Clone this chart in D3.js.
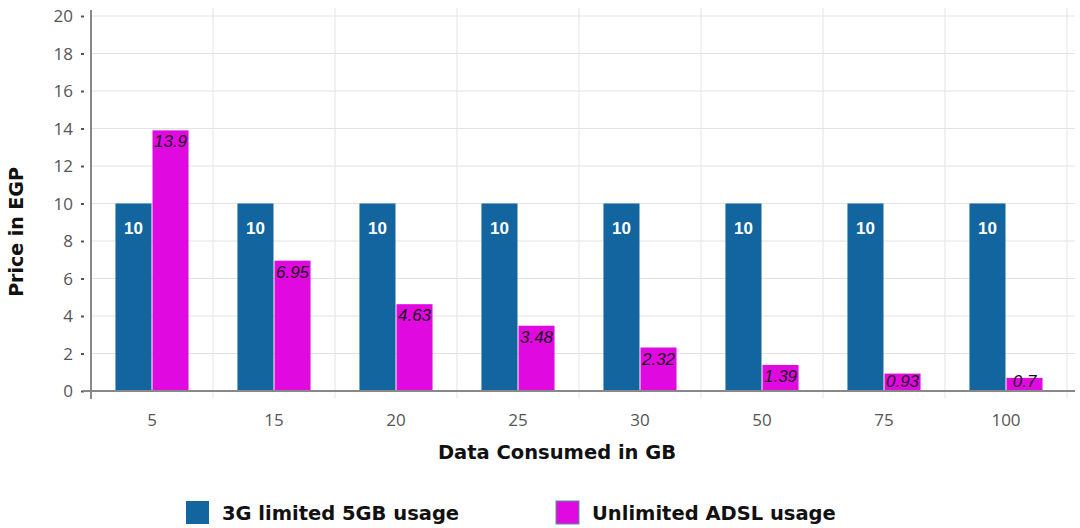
<!DOCTYPE html>
<html>
<head>
<meta charset="utf-8">
<script src="https://cdn.jsdelivr.net/npm/d3@7"></script>
<style>
  html, body { margin: 0; padding: 0; background: #fff; }
  svg { display: block; }
</style>
</head>
<body>
<svg id="chart" width="1080" height="528"></svg>
<script>
// Data consumed (GB) and monthly price (EGP) for each plan
const categories = ["5", "15", "20", "25", "30", "50", "75", "100"];
const series = ["3G limited 5GB usage", "Unlimited ADSL usage"];
const price3G = [10, 10, 10, 10, 10, 10, 10, 10];
const priceADSL = [13.9, 6.95, 4.63, 3.48, 2.32, 1.39, 0.93, 0.7];
const yTicks = [0, 2, 4, 6, 8, 10, 12, 14, 16, 18, 20];

const colors = ["#12659f", "#e00ae0"];

const svg = d3.select("#chart");
const W = 1080;
const plotLeft = 91, plotRight = 1067, plotTop = 16, plotBottom = 391;

const x = d3.scaleBand().domain(categories).range([plotLeft, plotRight]);
const x1 = d3.scaleBand().domain([0, 1]).range([0, x.bandwidth()])
  .paddingInner(0.027).paddingOuter(0.66);
const y = d3.scaleLinear().domain([0, 20]).range([plotBottom, plotTop]);

const titleFont = "DejaVu Sans, Verdana, sans-serif";
const tickFont = "Open Sans, sans-serif";

// horizontal grid
svg.append("g")
  .selectAll("line")
  .data(yTicks.filter(d => d > 0))
  .join("line")
  .attr("x1", plotLeft).attr("x2", W - 5)
  .attr("y1", d => y(d)).attr("y2", d => y(d))
  .attr("stroke", "#e3e3e3").attr("stroke-width", 1);

// vertical grid at category boundaries
svg.append("g")
  .selectAll("line")
  .data(categories)
  .join("line")
  .attr("x1", d => x(d) + x.step())
  .attr("x2", d => x(d) + x.step())
  .attr("y1", plotTop - 8).attr("y2", y(0) + 7)
  .attr("stroke", "#e3e3e3").attr("stroke-width", 1);

// bars
const groups = svg.append("g")
  .selectAll("g")
  .data(categories)
  .join("g")
  .attr("transform", d => `translate(${x(d)},0)`);

const vals = [price3G, priceADSL];

groups.each(function (c, i) {
  const g = d3.select(this);
  vals.forEach((arr, s) => {
    g.append("rect")
      .attr("x", x1(s))
      .attr("y", y(arr[i]))
      .attr("width", x1.bandwidth())
      .attr("height", y(0) - y(arr[i]))
      .attr("fill", colors[s]);
  });
  // value labels
  g.append("text")
    .attr("x", x1(0) + x1.bandwidth() / 2)
    .attr("y", y(price3G[i]) + 30)
    .attr("text-anchor", "middle")
    .attr("font-family", "Liberation Sans, Arial, sans-serif")
    .attr("font-weight", "bold")
    .attr("font-size", 17)
    .attr("fill", "#ffffff")
    .text(price3G[i]);
  g.append("text")
    .attr("x", x1(1) + x1.bandwidth() / 2)
    .attr("y", Math.min(y(priceADSL[i]) + 17, y(0) - 4))
    .attr("text-anchor", "middle")
    .attr("font-family", "Liberation Sans, Arial, sans-serif")
    .attr("font-style", "italic")
    .attr("font-size", 17)
    .attr("fill", "#1c0a1c")
    .text(priceADSL[i]);
});

// y axis
const yAxis = svg.append("g")
  .attr("transform", `translate(${plotLeft},0)`)
  .call(d3.axisLeft(y).tickValues(yTicks).tickSize(0).tickPadding(18));
yAxis.select(".domain").attr("stroke", "#888").attr("stroke-width", 2)
  .attr("d", `M0,${plotTop - 6}V${y(0) + 8}`);
yAxis.selectAll(".tick text")
  .attr("font-family", tickFont).attr("font-size", 17).attr("fill", "#555")
  .attr("dy", "0.34em");
yAxis.selectAll(".tick").append("line")
  .attr("x1", -10).attr("x2", -7).attr("stroke", "#555").attr("stroke-width", 2);

// x axis
const xAxis = svg.append("g")
  .attr("transform", `translate(0,${y(0)})`)
  .call(d3.axisBottom(x).tickSize(0).tickPadding(23));
xAxis.select(".domain").attr("stroke", "#888").attr("stroke-width", 2)
  .attr("d", `M${plotLeft - 8},0H${W - 5}`);
xAxis.selectAll(".tick text")
  .attr("font-family", tickFont).attr("font-size", 17).attr("fill", "#555");

// axis titles
svg.append("text")
  .attr("x", 557).attr("y", 459)
  .attr("text-anchor", "middle")
  .attr("font-family", titleFont)
  .attr("font-weight", "bold").attr("font-size", 19.5).attr("fill", "#111")
  .text("Data Consumed in GB");

svg.append("text")
  .attr("transform", "translate(23,232) rotate(-90)")
  .attr("text-anchor", "middle")
  .attr("font-family", titleFont)
  .attr("font-weight", "bold").attr("font-size", 19).attr("fill", "#111")
  .text("Price in EGP");

// legend
const legendX = [186, 556];
const legend = svg.append("g")
  .selectAll("g")
  .data(series)
  .join("g")
  .attr("transform", (d, i) => `translate(${legendX[i]},501)`);
legend.append("rect")
  .attr("width", 23).attr("height", 23)
  .attr("fill", (d, i) => colors[i])
  .attr("stroke", (d, i) => i === 1 ? "#4a9a9a" : "none")
  .attr("stroke-width", 1);
legend.append("text")
  .attr("x", 36).attr("y", 19)
  .attr("font-family", titleFont)
  .attr("font-weight", "bold").attr("font-size", 19.5).attr("fill", "#111")
  .text(d => d);
</script>
</body>
</html>
